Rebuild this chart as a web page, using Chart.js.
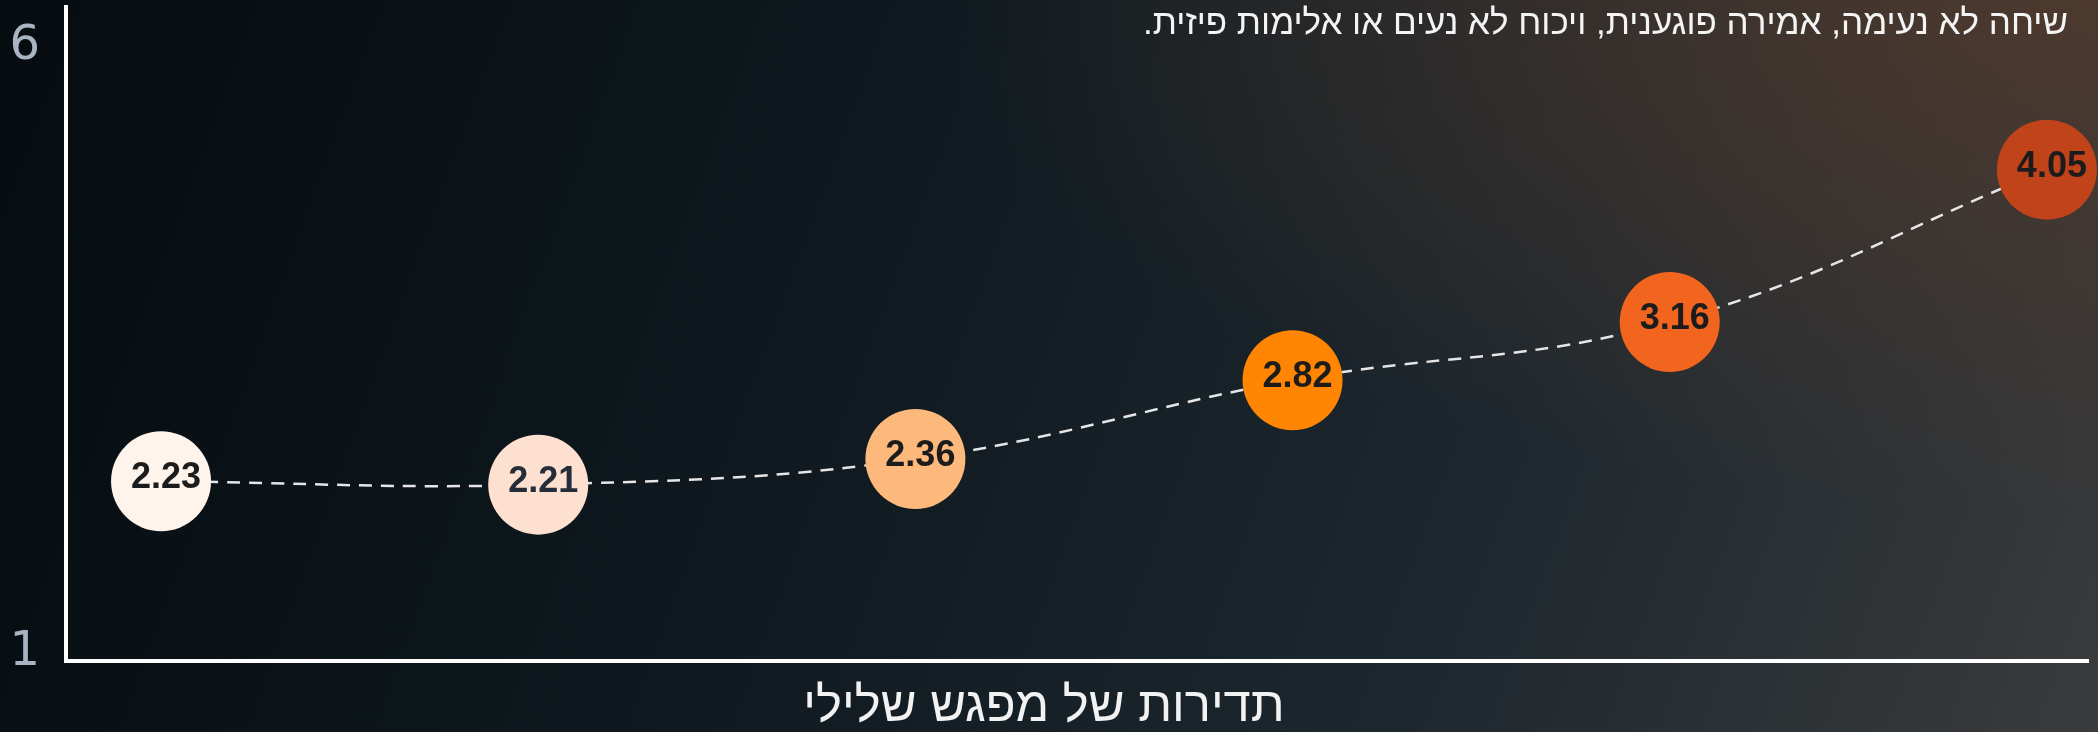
<!DOCTYPE html>
<html lang="he">
<head>
  <meta charset="UTF-8" />
  <title>תדירות של מפגש שלילי</title>
  <script src="https://cdn.jsdelivr.net/npm/chart.js"></script>
  <style>
    html, body { margin: 0; padding: 0; }
    body {
      width: 2098px; height: 732px; overflow: hidden; position: relative;
      background:
        radial-gradient(ellipse 55% 70% at 100% 0%, rgba(82,58,44,0.85) 0%, rgba(82,58,44,0) 100%),
        linear-gradient(110deg, #060c10 0%, #0f191f 40%, #1d272e 70%, #3a3b3c 100%);
    }
    #note {
      position: absolute; right: 30px; top: 2px;
      font-family: "Liberation Sans", Arial, sans-serif; font-size: 35px;
      color: #f4f4f4; white-space: nowrap;
    }
    canvas { position: absolute; left: 0; top: 0; }
  </style>
</head>
<body>
  <canvas id="chart" width="2098" height="732"></canvas>
  <div id="note" dir="rtl">שיחה לא נעימה, אמירה פוגענית, ויכוח לא נעים או אלימות פיזית.</div>

  <script>
    // נתונים
    const levels = [1, 2, 3, 4, 5, 6];
    const values = [2.23, 2.21, 2.36, 2.82, 3.16, 4.05];
    const yTicks = [1, 6];
    const xTitle = 'תדירות של מפגש שלילי';

    const pointColors = ['#fff4ec', '#fde0cf', '#fdb97c', '#ff8503', '#f1651f', '#c1431a'];
    const labelColors = ['#1c1c1c', '#252d3b', '#1c1c1c', '#1c1c1c', '#1c1c1c', '#1c1c1c'];

    // תוויות ערך בתוך העיגולים
    const valueLabels = {
      id: 'valueLabels',
      afterDatasetsDraw(chart) {
        const ctx = chart.ctx;
        const meta = chart.getDatasetMeta(0);
        ctx.save();
        ctx.font = 'bold 36px "Liberation Sans", Arial, sans-serif';
        ctx.textAlign = 'center';
        ctx.textBaseline = 'middle';
        meta.data.forEach((pt, i) => {
          ctx.fillStyle = labelColors[i];
          ctx.fillText(values[i].toFixed(2), pt.x + 5, pt.y - 3);
        });
        ctx.restore();
      }
    };

    const ctx = document.getElementById('chart').getContext('2d');

    new Chart(ctx, {
      type: 'line',
      data: {
        datasets: [{
          data: levels.map((x, i) => ({ x: x, y: values[i] })),
          yAxisID: 'yd',
          borderColor: '#e6e6e6',
          borderWidth: 2.5,
          borderDash: [13, 9],
          tension: 0.4,
          fill: false,
          clip: false,
          pointRadius: 50,
          pointHoverRadius: 50,
          pointBorderWidth: 0,
          pointBackgroundColor: pointColors
        }]
      },
      options: {
        responsive: false,
        animation: false,
        devicePixelRatio: 1,
        layout: { autoPadding: false, padding: { top: 7, right: 10, left: 0, bottom: 0 } },
        plugins: {
          legend: { display: false },
          tooltip: { enabled: false },
          title: {
            display: true,
            position: 'bottom',
            text: xTitle,
            color: '#f2f2f2',
            font: { family: '"Liberation Sans", Arial, sans-serif', size: 49, weight: 'normal', lineHeight: 1.0 },
            padding: { top: 22, bottom: 0 }
          }
        },
        scales: {
          x: {
            type: 'linear',
            min: 0.748,
            max: 6.109,
            ticks: { display: false },
            grid: { display: false, drawTicks: false },
            border: { display: true, color: '#ffffff', width: 4 },
            afterFit: s => { s.height = 0; s.paddingLeft = 0; s.paddingRight = 0; }
          },
          y: {
            type: 'linear',
            position: 'left',
            min: 0.934,
            max: 6.33,
            afterBuildTicks: s => { s.ticks = yTicks.map(v => ({ value: v })); },
            ticks: {
              color: '#a9b4c2',
              padding: 26,
              font: { family: '"DejaVu Sans", sans-serif', size: 48 }
            },
            grid: { display: false, drawTicks: false },
            border: { display: true, color: '#ffffff', width: 4 },
            afterFit: s => { s.width = 66; s.paddingTop = 0; s.paddingBottom = 0; }
          },
          yd: {
            type: 'linear',
            display: false,
            min: 1.18,
            max: 5.0
          }
        }
      },
      plugins: [valueLabels]
    });
  </script>
</body>
</html>
